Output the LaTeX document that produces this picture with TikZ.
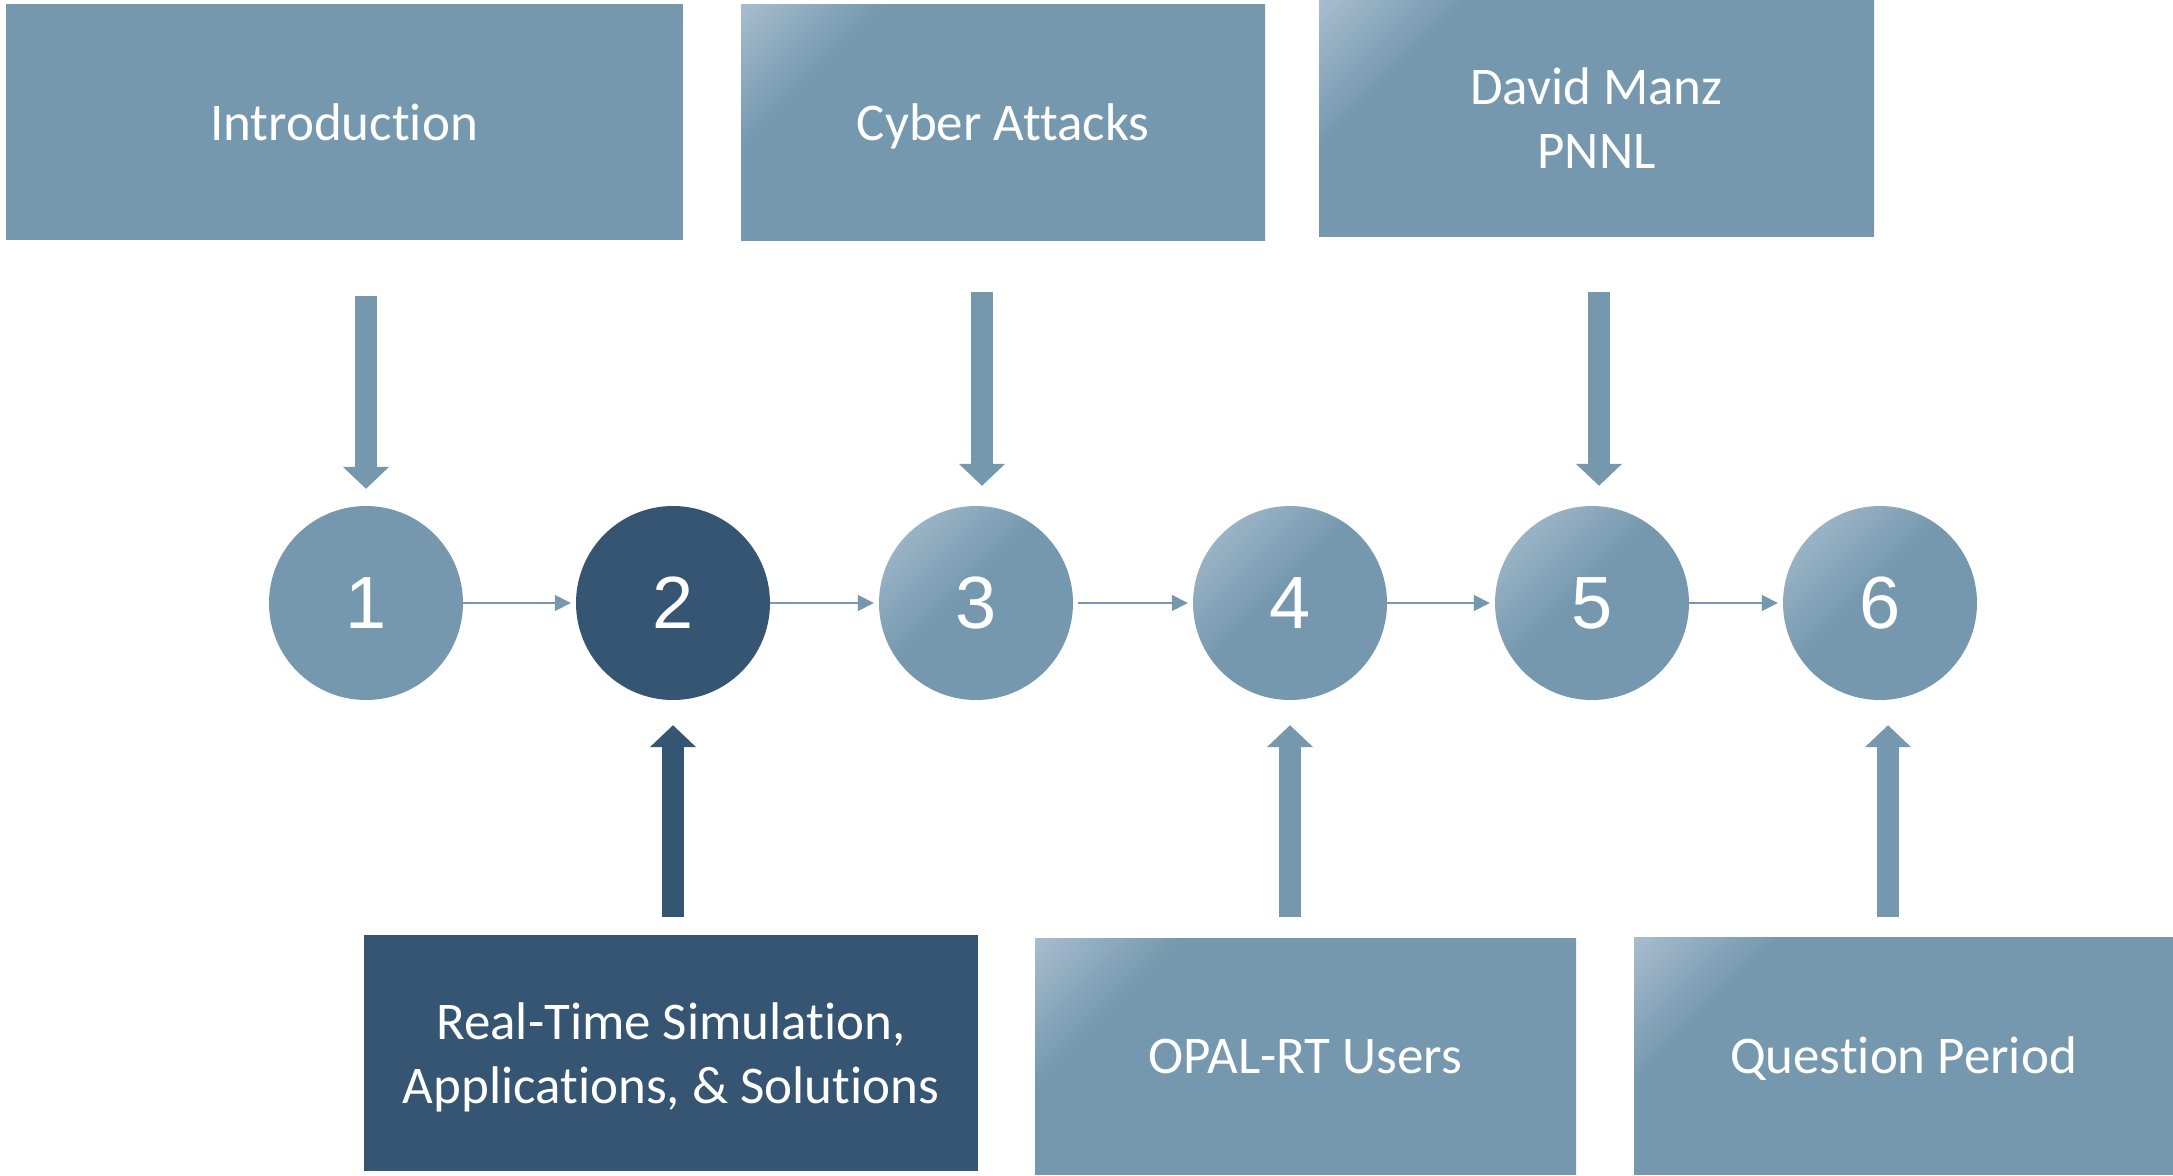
\documentclass[tikz,border=0pt]{standalone}
\usepackage{fontspec}
\setmainfont{Carlito}[Ligatures=NoCommon]
\newfontfamily\numfont{Liberation Sans}
\usetikzlibrary{arrows.meta,calc}
\definecolor{basec}{HTML}{7598AE}
\definecolor{darkc}{HTML}{365573}
\definecolor{lightc}{HTML}{AABED0}
\pgfdeclarehorizontalshading{boxcorner}{100bp}{color(0bp)=(lightc); color(14bp)=(lightc); color(28bp)=(basec); color(100bp)=(basec)}
\pgfdeclarehorizontalshading{circcorner}{100bp}{color(0bp)=(lightc); color(16bp)=(lightc); color(46bp)=(basec); color(100bp)=(basec)}
\tikzset{
 box/.style={rectangle, inner sep=0pt, text=white, font=\fontsize{53}{64}\selectfont, align=center, text depth=0pt},
 flatbox/.style={box, fill=basec},
 gradbox/.style={box, shading=boxcorner, shading angle=-45},
 darkbox/.style={box, fill=darkc},
 num/.style={circle, inner sep=0pt, minimum size=194pt, text=white, font=\numfont\fontsize{74}{74}\selectfont},
 flatnum/.style={num, fill=basec},
 gradnum/.style={num, shading=circcorner, shading angle=-45},
 darknum/.style={num, fill=darkc},
 link/.style={draw=basec, line width=1.5pt, -{Triangle[width=16pt,length=16pt]}, shorten >=5pt},
 blk/.style={line width=22pt, -{Triangle[width=45pt,length=22pt]}},
}
\begin{document}
\begin{tikzpicture}[x=1pt,y=-1pt]
\useasboundingbox (0,0) rectangle (2173,1175);
% top boxes
\node[flatbox, minimum width=677pt, minimum height=236pt] (intro) at (344,122) {Introduction};
\node[gradbox, minimum width=524pt, minimum height=236pt] (cyber) at (1003,122) {Cyber Attacks};
\node[gradbox, minimum width=555pt, minimum height=236pt] (david) at (1596.5,118) {David Manz\\PNNL};
% bottom boxes
\node[darkbox, minimum width=614pt, minimum height=236pt] (rts) at (671,1053) {Real-Time Simulation,\\Applications, \& Solutions};
\node[gradbox, minimum width=541pt, minimum height=236pt] (opal) at (1305.5,1056) {OPAL-RT Users};
\node[gradbox, minimum width=539pt, minimum height=237pt] (quest) at (1903.5,1055.5) {Question Period};
% circles
\node[flatnum] (c1) at (366,603) {1};
\node[darknum] (c2) at (673,603) {2};
\node[gradnum] (c3) at (976,603) {3};
\node[gradnum] (c4) at (1290,603) {4};
\node[gradnum] (c5) at (1592,603) {5};
\node[gradnum] (c6) at (1880,603) {6};
% thin links
\draw[link] (c1) -- (c2);
\draw[link] (c2) -- (c3);
\draw[link, shorten <=5pt] (c3) -- (c4);
\draw[link] (c4) -- (c5);
\draw[link] (c5) -- (c6);
% block arrows
\draw[blk, draw=basec, shorten <=56pt, shorten >=17pt] (intro.south -| c1) -- (c1.north);
\draw[blk, draw=basec, shorten <=52pt, shorten >=20pt] ($(cyber.south -| c3)+(6,0)$) -- ($(c3.north)+(6,0)$);
\draw[blk, draw=basec, shorten <=56pt, shorten >=20pt] ($(david.south -| c5)+(7,0)$) -- ($(c5.north)+(7,0)$);
\draw[blk, draw=darkc, shorten <=18pt, shorten >=25pt] (rts.north -| c2) -- (c2.south);
\draw[blk, draw=basec, shorten <=21pt, shorten >=25pt] (opal.north -| c4) -- (c4.south);
\draw[blk, draw=basec, shorten <=20pt, shorten >=25pt] ($(quest.north -| c6)+(8,0)$) -- ($(c6.south)+(8,0)$);
\end{tikzpicture}
\end{document}
